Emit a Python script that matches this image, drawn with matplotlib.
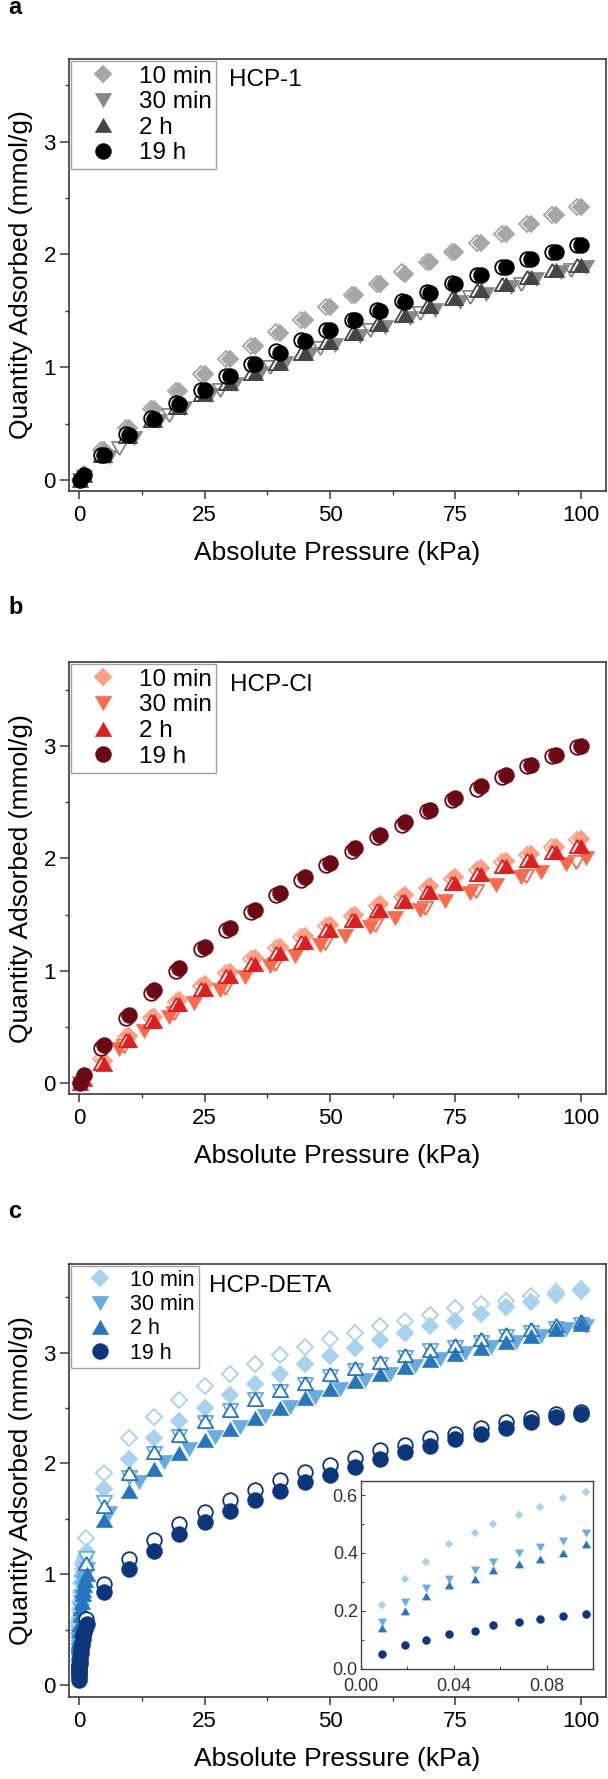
import matplotlib
matplotlib.use('Agg')
import matplotlib.pyplot as plt
from matplotlib.ticker import MultipleLocator, FormatStrFormatter

plt.rcParams['font.family'] = ['Liberation Sans', 'DejaVu Sans']

# ---------------- data ----------------
labels = ['10 min', '30 min', '2 h', '19 h']

# Panel a (HCP-1)
pa_ads = [0.1, 1, 5, 10, 15, 20, 25, 30, 35, 40, 45, 50, 55, 60, 65, 70, 75, 80, 85, 90, 95, 100]
pa_30 = [0.1, 1, 6, 11, 16, 21, 26, 31, 36, 41, 46, 51, 56, 61, 66, 71, 76, 81, 86, 91, 96, 101]
pa_des = [4.3, 9.3, 14.3, 19.3, 24.3, 29.3, 34.3, 39.3, 44.3, 49.3, 54.3, 59.3, 64.3, 69.3, 74.3, 79.3, 84.3, 89.3, 94.3, 99.3]
pa_30_des = [8, 18, 28, 38, 48, 58, 68, 78, 88, 98]
a_10min_ads = [0.00, 0.05, 0.27, 0.46, 0.63, 0.79, 0.94, 1.07, 1.19, 1.30, 1.42, 1.53, 1.64, 1.74, 1.83, 1.93, 2.02, 2.10, 2.18, 2.27, 2.35, 2.42]
a_10min_des = [0.27, 0.46, 0.63, 0.79, 0.94, 1.07, 1.19, 1.31, 1.42, 1.53, 1.64, 1.74, 1.84, 1.93, 2.02, 2.10, 2.18, 2.27, 2.35, 2.42]
a_30min_ads = [0.00, 0.03, 0.20, 0.37, 0.52, 0.64, 0.75, 0.85, 0.95, 1.04, 1.12, 1.20, 1.28, 1.36, 1.44, 1.51, 1.58, 1.65, 1.71, 1.78, 1.84, 1.89]
a_30min_des = [0.28, 0.58, 0.80, 1.00, 1.17, 1.33, 1.48, 1.62, 1.74, 1.86]
a_2h_ads = [0.00, 0.04, 0.22, 0.39, 0.53, 0.65, 0.76, 0.86, 0.95, 1.04, 1.13, 1.22, 1.30, 1.38, 1.46, 1.54, 1.61, 1.68, 1.74, 1.80, 1.86, 1.91]
a_2h_des = [0.22, 0.39, 0.53, 0.65, 0.76, 0.86, 0.95, 1.04, 1.13, 1.22, 1.30, 1.38, 1.46, 1.54, 1.61, 1.68, 1.74, 1.80, 1.86, 1.91]
a_19h_ads = [0.00, 0.04, 0.22, 0.40, 0.54, 0.67, 0.80, 0.92, 1.03, 1.13, 1.23, 1.33, 1.42, 1.50, 1.58, 1.66, 1.74, 1.82, 1.89, 1.96, 2.02, 2.08]
a_19h_des = [0.22, 0.41, 0.55, 0.68, 0.80, 0.92, 1.03, 1.14, 1.24, 1.33, 1.42, 1.51, 1.59, 1.67, 1.75, 1.82, 1.89, 1.96, 2.02, 2.08]

# Panel b (HCP-Cl)
pb_ads = [0.1, 1, 5, 10, 15, 20, 25, 30, 35, 40, 45, 50, 55, 60, 65, 70, 75, 80, 85, 90, 95, 100]
pb_30 = [0.1, 1, 8, 13, 18, 23, 28, 33, 38, 43, 48, 53, 58, 63, 68, 73, 78, 83, 88, 92, 97, 101]
pb_des = [4.3, 9.3, 14.3, 19.3, 24.3, 29.3, 34.3, 39.3, 44.3, 49.3, 54.3, 59.3, 64.3, 69.3, 74.3, 79.3, 84.3, 89.3, 94.3, 99.3]
pb_30_des = [9, 19, 29, 39, 49, 59, 69, 79, 89, 99]
b_10min_ads = [0.00, 0.05, 0.20, 0.42, 0.59, 0.74, 0.88, 0.99, 1.11, 1.21, 1.31, 1.41, 1.50, 1.59, 1.67, 1.75, 1.83, 1.91, 1.98, 2.04, 2.10, 2.17]
b_10min_des = [0.21, 0.41, 0.58, 0.72, 0.86, 0.98, 1.10, 1.20, 1.30, 1.40, 1.49, 1.58, 1.66, 1.74, 1.82, 1.90, 1.97, 2.03, 2.10, 2.16]
b_30min_ads = [0.00, 0.03, 0.30, 0.46, 0.59, 0.71, 0.83, 0.94, 1.04, 1.13, 1.23, 1.31, 1.39, 1.47, 1.54, 1.62, 1.69, 1.76, 1.83, 1.88, 1.95, 2.00]
b_30min_des = [0.33, 0.62, 0.85, 1.06, 1.25, 1.41, 1.56, 1.71, 1.84, 1.97]
b_2h_ads = [0.00, 0.04, 0.17, 0.38, 0.55, 0.70, 0.84, 0.95, 1.06, 1.16, 1.26, 1.36, 1.45, 1.54, 1.62, 1.70, 1.78, 1.86, 1.93, 1.99, 2.06, 2.11]
b_2h_des = [0.18, 0.38, 0.55, 0.70, 0.84, 0.95, 1.06, 1.16, 1.26, 1.36, 1.45, 1.54, 1.62, 1.70, 1.78, 1.86, 1.93, 1.99, 2.06, 2.11]
b_19h_ads = [0.00, 0.07, 0.34, 0.61, 0.83, 1.02, 1.21, 1.38, 1.54, 1.69, 1.83, 1.96, 2.09, 2.21, 2.32, 2.43, 2.54, 2.64, 2.74, 2.83, 2.92, 3.00]
b_19h_des = [0.31, 0.58, 0.80, 1.00, 1.19, 1.36, 1.52, 1.67, 1.81, 1.94, 2.07, 2.19, 2.30, 2.42, 2.52, 2.62, 2.72, 2.82, 2.91, 2.99]

# Panel c (HCP-DETA)
pc_ads = [0.009, 0.019, 0.028, 0.038, 0.049, 0.057, 0.068, 0.077, 0.087, 0.097,
          0.15, 0.2, 0.3, 0.4, 0.5, 0.7, 0.85, 1.0, 1.2, 1.5,
          5, 10, 15, 20, 25, 30, 35, 40, 45, 50, 55, 60, 65, 70, 75, 80, 85, 90, 95, 100]
pc_30 = [0.009, 0.019, 0.028, 0.038, 0.049, 0.057, 0.068, 0.077, 0.087, 0.097,
         0.15, 0.2, 0.3, 0.4, 0.5, 0.7, 0.85, 1.0, 1.2, 1.5,
         6, 12, 17, 22, 27, 32, 37, 42, 47, 52, 57, 62, 67, 72, 77, 82, 87, 92, 97, 101]
pc_des = [1.4, 5, 10, 15, 20, 25, 30, 35, 40, 45, 50, 55, 60, 65, 70, 75, 80, 85, 90, 95, 100]
c_10min_ads = [0.22, 0.31, 0.37, 0.43, 0.47, 0.50, 0.53, 0.56, 0.59, 0.61,
               0.69, 0.75, 0.84, 0.92, 0.98, 1.05, 1.09, 1.12, 1.16, 1.20,
               1.77, 2.04, 2.23, 2.38, 2.50, 2.62, 2.72, 2.81, 2.90, 2.97, 3.04, 3.11, 3.18, 3.24, 3.29, 3.35, 3.41, 3.46, 3.52, 3.56]
c_10min_des = [1.33, 1.91, 2.23, 2.42, 2.57, 2.70, 2.81, 2.90, 2.98, 3.05, 3.12, 3.18, 3.24, 3.29, 3.34, 3.40, 3.44, 3.47, 3.51, 3.55, 3.57]
c_30min_ads = [0.16, 0.23, 0.28, 0.31, 0.34, 0.37, 0.40, 0.42, 0.44, 0.47,
               0.54, 0.60, 0.68, 0.75, 0.80, 0.88, 0.93, 0.97, 1.01, 1.05,
               1.55, 1.83, 2.01, 2.13, 2.24, 2.33, 2.43, 2.51, 2.60, 2.67, 2.75, 2.81, 2.88, 2.94, 3.00, 3.05, 3.10, 3.15, 3.21, 3.24]
c_30min_des = [1.15, 1.65, 1.88, 2.09, 2.25, 2.37, 2.48, 2.58, 2.65, 2.72, 2.79, 2.84, 2.90, 2.96, 3.02, 3.05, 3.10, 3.15, 3.19, 3.22, 3.26]
c_2h_ads = [0.14, 0.20, 0.25, 0.29, 0.31, 0.34, 0.36, 0.38, 0.40, 0.43,
            0.50, 0.55, 0.63, 0.70, 0.75, 0.82, 0.86, 0.90, 0.95, 1.00,
            1.49, 1.75, 1.95, 2.09, 2.21, 2.31, 2.41, 2.50, 2.59, 2.67, 2.74, 2.81, 2.87, 2.93, 2.99, 3.04, 3.10, 3.15, 3.21, 3.26]
c_2h_des = [1.10, 1.62, 1.91, 2.10, 2.26, 2.38, 2.48, 2.58, 2.66, 2.73, 2.81, 2.86, 2.92, 2.98, 3.02, 3.07, 3.12, 3.17, 3.21, 3.25, 3.29]
c_19h_ads = [0.05, 0.08, 0.10, 0.12, 0.13, 0.15, 0.16, 0.17, 0.18, 0.19,
             0.22, 0.25, 0.29, 0.33, 0.36, 0.42, 0.45, 0.48, 0.51, 0.55,
             0.84, 1.05, 1.21, 1.36, 1.47, 1.57, 1.67, 1.75, 1.83, 1.90, 1.97, 2.04, 2.10, 2.16, 2.22, 2.27, 2.32, 2.37, 2.42, 2.45]
c_19h_des = [0.60, 0.91, 1.14, 1.31, 1.45, 1.56, 1.67, 1.76, 1.85, 1.92, 1.99, 2.05, 2.12, 2.17, 2.23, 2.27, 2.32, 2.37, 2.41, 2.45, 2.46]

x_ticks = [0, 25, 50, 75, 100]
y_ticks = [0, 1, 2, 3]

# ---------------- style ----------------
colors_a = ['#a6a6a6', '#878787', '#454545', '#000000']
colors_b = ['#fca083', '#fb6a4a', '#de1f22', '#6b0a12']
colors_c = ['#a8d1ec', '#67abdf', '#2775be', '#0b367b']

TRI_UP = [(0, 0.433), (-0.5, -0.433), (0.5, -0.433), (0, 0.433)]
TRI_DN = [(0, -0.433), (-0.5, 0.433), (0.5, 0.433), (0, -0.433)]
markers = ['D', TRI_DN, TRI_UP, 'o']
msizes = [9.0, 12.0, 12.0, 11.5]

W, H = 608, 1779
fig = plt.figure(figsize=(W / 100, H / 100), dpi=100)


def add_axes_px(left, top, right, bottom):
    return fig.add_axes([left / W, 1 - bottom / H, (right - left) / W, (bottom - top) / H])


SPINE = '#3a3a3a'


def style_main(ax, ylim):
    ax.set_xlim(-2, 105)
    ax.set_ylim(*ylim)
    ax.set_xticks(x_ticks)
    ax.set_yticks(y_ticks)
    ax.xaxis.set_minor_locator(MultipleLocator(12.5))
    ax.yaxis.set_minor_locator(MultipleLocator(0.5))
    for s in ax.spines.values():
        s.set_color(SPINE)
        s.set_linewidth(1.2)
    ax.tick_params(axis='x', which='major', length=5.5, width=1.1, color=SPINE, pad=4.5, labelsize=16)
    ax.tick_params(axis='y', which='major', length=6.5, width=1.1, color=SPINE, pad=3, labelsize=16)
    ax.tick_params(which='minor', length=3, width=1.0, color=SPINE)
    ax.set_xlabel('Absolute Pressure (kPa)', fontsize=19, labelpad=11)
    ax.set_ylabel('Quantity Adsorbed (mmol/g)', fontsize=19, labelpad=7.5)


def draw_series(ax, series, colors, ms_scale=1.0, mew_open=1.3, with_des=True):
    handles = []
    for i, (p_ads, v_ads, p_des, v_des) in enumerate(series):
        ms = msizes[i] * ms_scale
        if with_des and p_des is not None:
            ax.plot(p_des, v_des, ls='none', marker=markers[i], ms=ms - 1.0,
                    mfc='white', mec=colors[i], mew=mew_open, zorder=2 + i)
        h, = ax.plot(p_ads, v_ads, ls='none', marker=markers[i], ms=ms,
                     mfc=colors[i], mec=colors[i], mew=0.3, zorder=2 + i, label=labels[i])
        handles.append(h)
    return handles


def add_legend(ax, handles, fs, hl, htp):
    leg = ax.legend(handles=handles, loc='upper left', fontsize=fs, frameon=True,
                    fancybox=False, framealpha=1, edgecolor='#a0a0a0', borderpad=0.2,
                    labelspacing=0.15, handlelength=hl, handletextpad=htp,
                    borderaxespad=0.08)
    leg.get_frame().set_linewidth(1.0)
    return leg


# ---------------- panel a ----------------
ax_a = add_axes_px(69, 58.7, 606, 490.7)
series_a = [(pa_ads, a_10min_ads, pa_des, a_10min_des),
            (pa_30, a_30min_ads, pa_30_des, a_30min_des),
            (pa_ads, a_2h_ads, pa_des, a_2h_des),
            (pa_ads, a_19h_ads, pa_des, a_19h_des)]
h_a = draw_series(ax_a, series_a, colors_a)
style_main(ax_a, (-0.095, 3.735))
add_legend(ax_a, h_a, 17.5, 2.2, 0.38)
ax_a.text(0.298, 0.951, 'HCP-1', transform=ax_a.transAxes, fontsize=17.5, ha='left', va='center')

# ---------------- panel b ----------------
ax_b = add_axes_px(69, 662, 606, 1094.3)
series_b = [(pb_ads, b_10min_ads, pb_des, b_10min_des),
            (pb_30, b_30min_ads, pb_30_des, b_30min_des),
            (pb_ads, b_2h_ads, pb_des, b_2h_des),
            (pb_ads, b_19h_ads, pb_des, b_19h_des)]
h_b = draw_series(ax_b, series_b, colors_b)
style_main(ax_b, (-0.10, 3.748))
add_legend(ax_b, h_b, 17.5, 2.2, 0.38)
ax_b.text(0.300, 0.947, 'HCP-Cl', transform=ax_b.transAxes, fontsize=17.5, ha='left', va='center')

# ---------------- panel c ----------------
ax_c = add_axes_px(69, 1264, 606, 1696.7)
series_c = [(pc_ads, c_10min_ads, pc_des, c_10min_des),
            (pc_30, c_30min_ads, pc_des, c_30min_des),
            (pc_ads, c_2h_ads, pc_des, c_2h_des),
            (pc_ads, c_19h_ads, pc_des, c_19h_des)]
h_c = draw_series(ax_c, series_c, colors_c)
style_main(ax_c, (-0.105, 3.80))
add_legend(ax_c, h_c, 15.5, 2.3, 0.25)
ax_c.text(0.260, 0.949, 'HCP-DETA', transform=ax_c.transAxes, fontsize=17.5, ha='left', va='center')

# inset
ax_in = add_axes_px(360.6, 1480.6, 593.3, 1668.5)
series_in = [(pc_ads, c_10min_ads, None, None),
             (pc_30, c_30min_ads, None, None),
             (pc_ads, c_2h_ads, None, None),
             (pc_ads, c_19h_ads, None, None)]
draw_series(ax_in, series_in, colors_c, ms_scale=0.5, with_des=False)
ax_in.set_xlim(0, 0.1)
ax_in.set_ylim(0, 0.65)
ax_in.xaxis.set_major_locator(MultipleLocator(0.04))
ax_in.xaxis.set_minor_locator(MultipleLocator(0.02))
ax_in.yaxis.set_major_locator(MultipleLocator(0.2))
ax_in.yaxis.set_minor_locator(MultipleLocator(0.1))
ax_in.xaxis.set_major_formatter(FormatStrFormatter('%.2f'))
ax_in.yaxis.set_major_formatter(FormatStrFormatter('%.1f'))
for s in ax_in.spines.values():
    s.set_color('#444444')
    s.set_linewidth(1.0)
ax_in.tick_params(which='major', direction='in', length=3, width=0.8, color='#444444',
                  labelsize=13, labelcolor='#333333')
ax_in.tick_params(axis='y', which='major', pad=2)
ax_in.tick_params(axis='x', which='major', pad=6.5)
ax_in.tick_params(which='minor', direction='in', length=2, width=0.8, color='#444444')

# panel letters
for letter, ypx in [('a', 8), ('b', 607), ('c', 1211)]:
    fig.text(8 / W, 1 - ypx / H, letter, fontsize=17, fontweight='bold', ha='left', va='center')

fig.savefig('out.png', dpi=100)
